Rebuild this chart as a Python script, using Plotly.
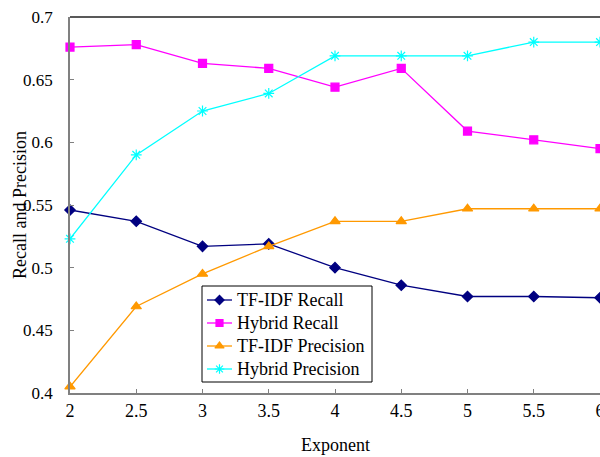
import plotly.graph_objects as go

exponent = [2, 2.5, 3, 3.5, 4, 4.5, 5, 5.5, 6]
tfidf_recall = [0.546, 0.537, 0.517, 0.519, 0.500, 0.486, 0.477, 0.477, 0.476]
hybrid_recall = [0.676, 0.678, 0.663, 0.659, 0.644, 0.659, 0.609, 0.602, 0.595]
tfidf_precision = [0.405, 0.469, 0.495, 0.517, 0.537, 0.537, 0.547, 0.547, 0.547]
hybrid_precision = [0.523, 0.590, 0.625, 0.639, 0.669, 0.669, 0.669, 0.680, 0.680]

series_names = ["TF-IDF Recall", "Hybrid Recall", "TF-IDF Precision", "Hybrid Precision"]

y_ticks = [0.4, 0.45, 0.5, 0.55, 0.6, 0.65, 0.7]
y_ticklabels = ["0.4", "0.45", "0.5", "0.55", "0.6", "0.65", "0.7"]
x_ticks = [2, 2.5, 3, 3.5, 4, 4.5, 5, 5.5, 6]
x_ticklabels = ["2", "2.5", "3", "3.5", "4", "4.5", "5", "5.5", "6"]

FONT = "Liberation Serif, Times New Roman, serif"

W, H = 600, 457
L, R, T, B = 70, 0, 17, 64

styles = [
    ("#000080", "diamond", 8, 7),
    ("#FF00FF", "square", 8, 7),
    ("#FF9900", "triangle-up", 9, 8),
    ("#00FFFF", "asterisk-open", 9, 8),
]
all_vals = [tfidf_recall, hybrid_recall, tfidf_precision, hybrid_precision]

fig = go.Figure()
for name, vals, (color, sym, size, _) in zip(series_names, all_vals, styles):
    fig.add_trace(go.Scatter(
        x=exponent, y=vals, name=name, mode="lines+markers",
        line=dict(color=color, width=1.3),
        marker=dict(symbol=sym, size=size, color=color,
                    line=dict(color=color, width=1.2)),
        cliponaxis=False, showlegend=False,
    ))

# Hand-built legend on an overlay axis measured in pixels (x from left, y from top)
leg_left, leg_right, leg_top, leg_bottom = 202, 372, 286, 382
row_y = [300, 323, 346, 369]
line_x0, line_x1, text_x = 207, 232, 235

shapes = [
    dict(type="line", xref="paper", yref="paper", x0=0, x1=1, y0=1, y1=1,
         line=dict(color="#222222", width=1.5)),
    dict(type="rect", xref="x2", yref="y2", x0=leg_left, x1=leg_right,
         y0=leg_top, y1=leg_bottom, line=dict(color="black", width=1),
         fillcolor="white", layer="below"),
]
annotations = [
    dict(text="Recall and Precision", xref="paper", yref="paper",
         x=(20 - L) / (W - L - R), y=0.5, textangle=-90, showarrow=False,
         xanchor="center", yanchor="middle", font=dict(family=FONT, size=18)),
    dict(text="Exponent", xref="paper", yref="paper",
         x=0.5, y=-(445 - (H - B)) / (H - T - B), showarrow=False,
         xanchor="center", yanchor="middle", font=dict(family=FONT, size=18)),
]
for name, (color, sym, size, lsize), ry in zip(series_names, styles, row_y):
    shapes.append(dict(type="line", xref="x2", yref="y2", x0=line_x0, x1=line_x1,
                       y0=ry, y1=ry, line=dict(color=color, width=1.3), layer="below"))
    annotations.append(dict(text=name, xref="x2", yref="y2", x=text_x, y=ry,
                            xanchor="left", yanchor="middle", showarrow=False,
                            font=dict(family=FONT, size=18)))
    fig.add_trace(go.Scatter(
        x=[(line_x0 + line_x1) / 2], y=[ry], xaxis="x2", yaxis="y2",
        mode="markers", showlegend=False, hoverinfo="skip",
        marker=dict(symbol=sym, size=lsize, color=color,
                    line=dict(color=color, width=1.2)),
        cliponaxis=False,
    ))

fig.update_layout(
    width=W, height=H,
    margin=dict(l=L, r=R, t=T, b=B, autoexpand=False),
    paper_bgcolor="white", plot_bgcolor="white",
    font=dict(family=FONT, size=18, color="black"),
    showlegend=False,
    xaxis=dict(
        range=[2, 6], tickvals=x_ticks, ticktext=x_ticklabels,
        showgrid=False, zeroline=False, automargin=False,
        showline=True, linecolor="#808080", linewidth=1.5,
        ticks="inside", ticklen=4, tickcolor="#808080", tickwidth=1,
        ticklabelstandoff=1, tickfont=dict(size=18),
        ticklabeloverflow="allow",
    ),
    yaxis=dict(
        range=[0.4, 0.7], tickvals=y_ticks, ticktext=y_ticklabels,
        showgrid=False, zeroline=False, automargin=False,
        showline=True, linecolor="#808080", linewidth=1.5,
        ticks="inside", ticklen=4, tickcolor="#808080", tickwidth=1,
        ticklabelstandoff=12, tickfont=dict(size=17),
    ),
    xaxis2=dict(overlaying="x", range=[L, W - R], visible=False, fixedrange=True),
    yaxis2=dict(overlaying="y", range=[H - B, T], visible=False, fixedrange=True),
    shapes=shapes,
    annotations=annotations,
)

fig.write_html("out.html")
